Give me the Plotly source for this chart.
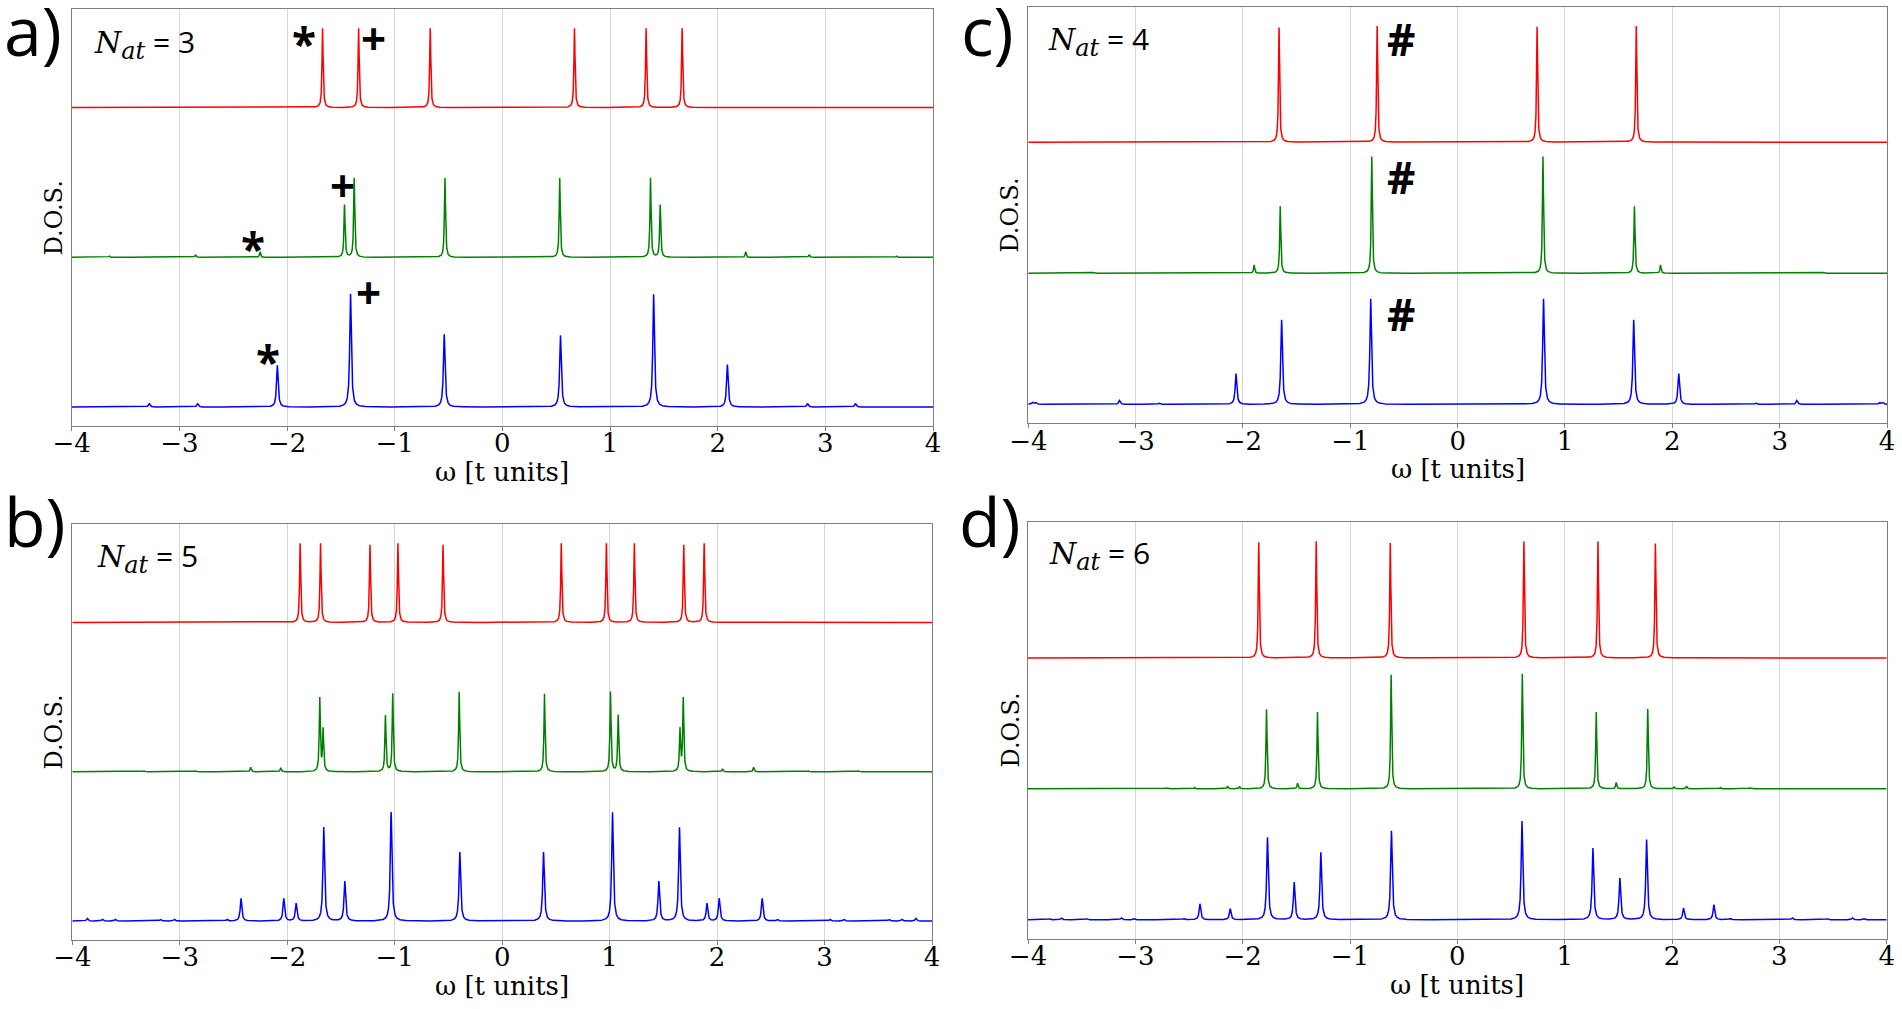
import numpy as np
import plotly.graph_objects as go

# energy grid for the spectra
omega = np.linspace(-4, 4, 8001)

# ---- peak positions / heights ----
# each panel: red curve sits at offset 2, green at 1, blue at 0

# a) N_at = 3
a_red_pos = [-1.67, -1.335, -0.67, 0.67, 1.335, 1.67]
a_red_h = [0.53, 0.53, 0.53, 0.53, 0.53, 0.53]
a_green_pos = [-3.65, -2.85, -2.25, -1.466, -1.376, -0.533, 0.533, 1.376, 1.466, 2.26, 2.85, 3.66]
a_green_h = [0.008, 0.018, 0.038, 0.35, 0.53, 0.53, 0.53, 0.53, 0.35, 0.038, 0.018, 0.008]
a_blue_pos = [-3.28, -2.83, -2.09, -1.41, -0.54, 0.54, 1.405, 2.09, 2.835, 3.28]
a_blue_h = [0.022, 0.022, 0.278, 0.757, 0.486, 0.479, 0.753, 0.283, 0.022, 0.022]

# c) N_at = 4
c_red_pos = [-1.664, -0.75, 0.74, 1.664]
c_red_h = [0.875, 0.885, 0.88, 0.885]
c_green_pos = [-3.7, -3.4, -2.7, -2.55, -1.896, -1.653, -0.80, 0.795, 1.647, 1.89, 2.6, 2.7, 3.4, 3.7]
c_green_h = [0.005, 0.006, 0.005, 0.005, 0.064, 0.51, 0.89, 0.89, 0.51, 0.064, 0.005, 0.005, 0.006, 0.005]
c_blue_pos = [-3.96, -3.93, -3.15, -2.78, -2.065, -1.64, -0.81, 0.80, 1.64, 2.06, 2.78, 3.16, 3.93, 3.96]
c_blue_h = [0.015, 0.015, 0.03, 0.01, 0.234, 0.645, 0.806, 0.806, 0.645, 0.234, 0.01, 0.03, 0.015, 0.015]

# b) N_at = 5
b_red_pos = [-1.88, -1.69, -1.23, -0.97, -0.55, 0.55, 0.97, 1.23, 1.69, 1.88]
b_red_h = [0.53, 0.53, 0.52, 0.53, 0.52, 0.53, 0.53, 0.53, 0.52, 0.53]
b_green_pos = [-3.33, -2.85, -2.34, -2.06, -1.697, -1.666, -1.086, -1.018, -0.40, 0.394,
               1.008, 1.08, 1.655, 1.685, 2.05, 2.34, 2.85, 3.32]
b_green_h = [0.006, 0.006, 0.03, 0.027, 0.49, 0.28, 0.376, 0.523, 0.535, 0.523,
             0.535, 0.38, 0.28, 0.49, 0.02, 0.03, 0.006, 0.006]
b_blue_pos = [-3.86, -3.72, -3.6, -3.18, -3.05, -2.56, -2.43, -2.032, -1.917, -1.66, -1.464, -1.033, -0.394,
              0.385, 1.027, 1.458, 1.65, 1.906, 2.02, 2.42, 2.56, 3.05, 3.18, 3.6, 3.72, 3.85]
b_blue_h = [0.018, 0.012, 0.012, 0.012, 0.012, 0.012, 0.152, 0.152, 0.119, 0.629, 0.267, 0.73, 0.463,
            0.463, 0.729, 0.266, 0.628, 0.118, 0.152, 0.152, 0.012, 0.012, 0.012, 0.012, 0.012, 0.018]

# d) N_at = 6
d_red_pos = [-1.85, -1.315, -0.625, 0.62, 1.31, 1.845]
d_red_h = [0.883, 0.891, 0.878, 0.888, 0.888, 0.873]
d_green_pos = [-3.6, -2.9, -2.72, -2.45, -2.14, -2.03, -1.778, -1.489, -1.303, -0.617,
               0.605, 1.294, 1.48, 1.774, 2.02, 2.136, 2.45, 2.72, 2.9, 3.6]
d_green_h = [0.004, 0.005, 0.006, 0.01, 0.02, 0.015, 0.607, 0.043, 0.586, 0.871,
             0.878, 0.586, 0.048, 0.61, 0.015, 0.02, 0.01, 0.006, 0.005, 0.004]
d_blue_pos = [-3.80, -3.69, -3.45, -3.13, -3.01, -2.55, -2.398, -2.116, -1.769, -1.52, -1.272, -0.614,
              0.602, 1.263, 1.514, 1.763, 2.107, 2.39, 2.54, 3.12, 3.45, 3.68, 3.79]
d_blue_h = [0.008, 0.015, 0.008, 0.015, 0.008, 0.01, 0.122, 0.084, 0.629, 0.287, 0.515, 0.68,
            0.754, 0.547, 0.318, 0.613, 0.089, 0.115, 0.01, 0.015, 0.008, 0.015, 0.008]

tick_vals = [-4, -3, -2, -1, 0, 1, 2, 3, 4]
offsets = [2, 1, 0]
colors = ["#ff0000", "#008000", "#0000ff"]
widths = [0.006, 0.006, 0.009]  # lorentzian half widths

# markers put on the peaks: (text, x, y)
marks_a = [("*", -1.843, 2.466), ("+", -1.193, 2.466), ("+", -1.485, 1.483),
           ("*", -2.312, 1.093), ("+", -1.242, 0.769), ("*", -2.177, 0.339)]
marks_c = [("#", -0.532, 2.787), ("#", -0.532, 1.733), ("#", -0.532, 0.691)]


def dos(pos, hgt, gamma):
    y = np.zeros_like(omega)
    for p, h in zip(pos, hgt):
        y += h / (1 + ((omega - p) / gamma) ** 2)
    return y


W, H = 1902, 1009


def px_x(v):
    return v / W


def px_y(v):
    return 1 - v / H


# box edges in window pixels: left, right, top, bottom
panels = [
    dict(letter="a)", n=3, ax="", box=(71.7, 933, 9.3, 426),
         series=[(a_red_pos, a_red_h), (a_green_pos, a_green_h), (a_blue_pos, a_blue_h)],
         lpos=(33, 30), npos=(0.0236, 0.92), marks=marks_a),
    dict(letter="c)", n=4, ax="2", box=(1028.3, 1887, 7.2, 423.3),
         series=[(c_red_pos, c_red_h), (c_green_pos, c_green_h), (c_blue_pos, c_blue_h)],
         lpos=(987, 30), npos=(0.0206, 0.922), marks=marks_c),
    dict(letter="b)", n=5, ax="3", box=(72.3, 932, 524.3, 940),
         series=[(b_red_pos, b_red_h), (b_green_pos, b_green_h), (b_blue_pos, b_blue_h)],
         lpos=(35, 520), npos=(0.0264, 0.922), marks=[]),
    dict(letter="d)", n=6, ax="4", box=(1028, 1886.7, 522.3, 938.7),
         series=[(d_red_pos, d_red_h), (d_green_pos, d_green_h), (d_blue_pos, d_blue_h)],
         lpos=(990, 520), npos=(0.0219, 0.924), marks=[]),
]

serif = "DejaVu Serif"
sans = "Open Sans"
frame = "#7f7f7f"

fig = go.Figure()
annotations = []
layout = {}

for p in panels:
    xa = "x" + p["ax"]
    ya = "y" + p["ax"]
    left, right, top_px, bot_px = p["box"]
    top = 0
    for (pos, hgt), off, col, g in zip(p["series"], offsets, colors, widths):
        y = off + dos(pos, hgt, g)
        top = max(top, y.max())
        fig.add_trace(go.Scatter(x=omega, y=y, mode="lines", xaxis=xa, yaxis=ya,
                                 line=dict(color=col, width=1.5), showlegend=False,
                                 hoverinfo="skip"))
    pad = 0.05 * top
    layout["xaxis" + p["ax"]] = dict(
        domain=[px_x(left), px_x(right)], anchor=ya, range=[-4, 4], tickvals=tick_vals,
        ticks="outside", ticklen=4, tickcolor=frame, ticklabelstandoff=-10,
        showgrid=True, gridcolor="#d6d6d6", gridwidth=1, zeroline=False, showline=True,
        linecolor=frame, linewidth=1.3, mirror=True, automargin=False,
        tickfont=dict(family=serif, size=26, color="black"))
    layout["yaxis" + p["ax"]] = dict(
        domain=[px_y(bot_px), px_y(top_px)], anchor=xa, range=[-pad, top + pad],
        showticklabels=False, ticks="", showgrid=False, zeroline=False, showline=True,
        linecolor=frame, linewidth=1.3, mirror=True, automargin=False)

    xdom = xa + " domain"
    ydom = ya + " domain"
    # panel letter
    annotations.append(dict(text=p["letter"], xref="paper", yref="paper",
                            x=px_x(p["lpos"][0]), y=px_y(p["lpos"][1]),
                            xanchor="center", yanchor="middle", showarrow=False,
                            font=dict(family=sans, size=68, color="black")))
    # N_at label
    annotations.append(dict(
        text="<span style='font-family:DejaVu Serif'><i>N</i><sub><span style='font-size:24px'>"
             "<i>at</i></span></sub></span> = %d" % p["n"],
        xref=xdom, yref=ydom, x=p["npos"][0], y=p["npos"][1],
        xanchor="left", yanchor="middle", showarrow=False,
        font=dict(family=sans, size=30, color="black")))
    # axis titles
    annotations.append(dict(text="\u03c9 [t units]", xref=xdom, yref=ydom, x=0.5, y=0,
                            yshift=-46, xanchor="center", yanchor="middle", showarrow=False,
                            font=dict(family=serif, size=26, color="black")))
    annotations.append(dict(text="D.O.S.", xref=xdom, yref=ydom, x=0, y=0.5,
                            xshift=-18, textangle=-90, xanchor="center", yanchor="middle",
                            showarrow=False, font=dict(family=serif, size=24, color="black")))
    for txt, mx, my in p["marks"]:
        annotations.append(dict(text="<b>%s</b>" % txt, xref=xa, yref=ya, x=mx, y=my,
                                xanchor="center", yanchor="middle", showarrow=False,
                                yshift=-5 if txt == "*" else 0,
                                font=dict(family=sans, size=44, color="black")))

fig.update_layout(**layout)
fig.update_layout(width=W, height=H,
                  margin=dict(l=0, r=0, t=0, b=0, pad=0, autoexpand=False),
                  paper_bgcolor="white", plot_bgcolor="white",
                  annotations=annotations)
# no page margin, so the figure fills the window exactly
fig.write_html("out.html", config={"displayModeBar": False},
               post_script="document.body.style.margin='0';"
                           "document.documentElement.style.overflow='hidden';")
